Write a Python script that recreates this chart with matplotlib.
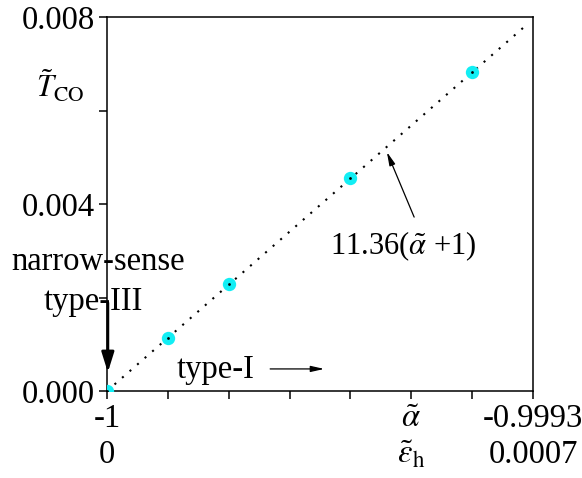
import matplotlib
matplotlib.use("Agg")
import matplotlib.pyplot as plt
import numpy as np

plt.rcParams['font.family'] = ['Liberation Serif', 'DejaVu Serif']
plt.rcParams['mathtext.fontset'] = 'stix'
plt.rcParams['axes.unicode_minus'] = False

# data
alpha_pts = [-1.0, -0.9999, -0.9998, -0.9996, -0.9994]
tco_pts = [0.0, 0.00114, 0.00229, 0.00455, 0.00682]
fit_slope = 11.36
fit_x = [-1.0, -0.99931]
x_ticks = [-1.0, -0.9999, -0.9998, -0.9997, -0.9996, -0.9995, -0.9994, -0.9993]
x_labels = ['-1', '', '', '', '', r'$\tilde{\alpha}$', '', '-0.9993']
x_labels2 = ['0', '', '', '', '', r'$\tilde{\varepsilon}_{\mathrm{h}}$', '', '0.0007']
y_ticks = [0.0, 0.002, 0.004, 0.006, 0.008]
y_labels = ['0.000', '', '0.004', '', '0.008']

fs = 23.5
fig = plt.figure(figsize=(5.82, 4.78), dpi=100)
ax = fig.add_axes([107/582, 1 - 391/478, 426/582, 374/478])

fy = [fit_slope * (x + 1) for x in fit_x]
ax.plot(fit_x, fy, color='black', lw=1.5, linestyle=(0, (1, 3.8)), zorder=2)
ax.plot(alpha_pts, tco_pts, 'o', color='#12eef4', markersize=9.6, markeredgewidth=0, zorder=3)
ax.plot(alpha_pts, tco_pts, 'o', color='black', markersize=2.0, markeredgewidth=0, zorder=4)

ax.set_xlim(-1.0, -0.9993)
ax.set_ylim(0, 0.008)
ax.set_xticks(x_ticks)
ax.set_xticklabels(x_labels, fontsize=fs)
ax.set_yticks(y_ticks)
ax.set_yticklabels(y_labels, fontsize=fs)
ax.tick_params(direction='out', length=6, width=1.1, pad=3)
for s in ax.spines.values():
    s.set_linewidth(1.1)

for xv, lab in zip(x_ticks, x_labels2):
    if lab:
        ax.text(xv, -0.171, lab, transform=ax.get_xaxis_transform(), ha='center', va='center',
                fontsize=fs, clip_on=False)

ax.text(-0.166, 0.783, r'$\tilde{T}_{\mathrm{CO}}$', transform=ax.transAxes, fontsize=fs - 1.5,
        ha='left', va='baseline')

ax.text(-0.021, 0.345, 'narrow-sense', transform=ax.transAxes, fontsize=fs, ha='center', va='center')
ax.text(-0.031, 0.238, 'type-III', transform=ax.transAxes, fontsize=fs, ha='center', va='center')
ax.annotate('', xy=(0.002, 0.05), xytext=(0.002, 0.236), xycoords='axes fraction',
            textcoords='axes fraction',
            arrowprops=dict(arrowstyle='-|>,head_length=0.8,head_width=0.25', lw=2, color='black',
                            mutation_scale=15, shrinkA=0, shrinkB=0))

ax.text(0.256, 0.056, 'type-I', transform=ax.transAxes, fontsize=fs, ha='center', va='center')
ax.annotate('', xy=(0.510, 0.059), xytext=(0.383, 0.059), xycoords='axes fraction',
            textcoords='axes fraction',
            arrowprops=dict(arrowstyle='-|>,head_length=0.8,head_width=0.18', lw=0.9, color='black',
                            mutation_scale=10, shrinkA=0, shrinkB=0))

ax.text(0.695, 0.388, r'11.36($\tilde{\alpha}$ +1)', transform=ax.transAxes, fontsize=fs - 1.5,
        ha='center', va='center')
ax.annotate('', xy=(0.657, 0.639), xytext=(0.721, 0.465), xycoords='axes fraction',
            textcoords='axes fraction',
            arrowprops=dict(arrowstyle='-|>,head_length=0.8,head_width=0.18', lw=0.9, color='black',
                            mutation_scale=10, shrinkA=0, shrinkB=0))

fig.savefig('out.png', dpi=100)
